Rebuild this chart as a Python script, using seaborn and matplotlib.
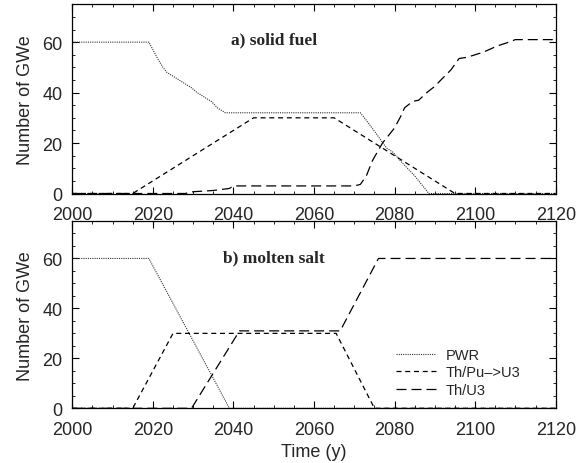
import matplotlib
matplotlib.use("Agg")
import matplotlib.pyplot as plt
import seaborn as sns
import pandas as pd
from matplotlib.ticker import MultipleLocator

sns.set_theme(style="ticks")
plt.rcParams['font.family'] = ['Liberation Sans', 'DejaVu Sans']

# ---- panel a) solid fuel ----
a_pwr_t = [2000, 2019, 2021, 2022.5, 2023.5, 2029.5, 2031, 2034.5, 2036, 2038, 2071.5, 2073, 2076, 2078, 2079.5, 2082, 2085, 2088.5, 2120]
a_pwr_v = [60, 60, 54, 50, 48, 42, 40, 36.5, 34, 32, 32, 29, 22.5, 18, 16.5, 12, 7, 0, 0]
a_thpu_t = [2000, 2015, 2045, 2065, 2095, 2120]
a_thpu_v = [0, 0, 30, 30, 0, 0]
a_thu3_t = [2000, 2028, 2030, 2035, 2039, 2040, 2070, 2071.5, 2073, 2074.5, 2077, 2079, 2080, 2081.5, 2082.5,
            2084.5, 2086, 2088, 2090, 2091.5, 2094, 2096, 2098, 2102, 2105.5, 2108, 2110, 2120]
a_thu3_v = [0, 0, 0.7, 1.2, 2, 3, 3, 3.6, 7, 13, 20, 24, 26, 30.5, 34,
            36.5, 37, 40, 42.5, 45, 49, 53.5, 54, 56, 58.5, 59.8, 61, 61]

# ---- panel b) molten salt ----
b_pwr_t = [2000, 2019, 2039, 2120]
b_pwr_v = [60, 60, 0, 0]
b_thpu_t = [2000, 2015, 2025, 2065.5, 2075, 2120]
b_thpu_v = [0, 0, 30, 30, 0, 0]
b_thu3_t = [2000, 2029.6, 2041.5, 2066.5, 2076, 2120]
b_thu3_v = [0, 0, 31, 31, 60, 60]

labels = ["PWR", "Th/Pu\u2013>U3", "Th/U3"]
styles = [(0, (1, 1)), (0, (4, 3)), (0, (8, 4))]
widths = [0.8, 0.9, 0.9]
colors = ["#333333", "black", "black"]

W, H = 586, 464
fig = plt.figure(figsize=(W / 100, H / 100), dpi=100)
ax1 = fig.add_axes([72.3 / W, 1 - 194.5 / H, (555.7 - 72.3) / W, (194.5 - 5.3) / H])
ax2 = fig.add_axes([72.3 / W, 1 - 409.3 / H, (555.7 - 72.3) / W, (409.3 - 222) / H])

panels = [
    (ax1, [(a_pwr_t, a_pwr_v), (a_thpu_t, a_thpu_v), (a_thu3_t, a_thu3_v)], "a) solid fuel", 59.5),
    (ax2, [(b_pwr_t, b_pwr_v), (b_thpu_t, b_thpu_v), (b_thu3_t, b_thu3_v)], "b) molten salt", 58.7),
]

for ax, series, title, ty in panels:
    for (t, v), lab, ls, lw, c in zip(series, labels, styles, widths, colors):
        df = pd.DataFrame({"Time": t, "GWe": v})
        sns.lineplot(data=df, x="Time", y="GWe", ax=ax, sort=False, estimator=None,
                     color=c, linewidth=lw, linestyle=ls, label=lab)
    ax.set_xlim(2000, 2120)
    ax.set_ylim(0, 75)
    ax.xaxis.set_major_locator(MultipleLocator(20))
    ax.xaxis.set_minor_locator(MultipleLocator(5))
    ax.yaxis.set_major_locator(MultipleLocator(20))
    ax.yaxis.set_minor_locator(MultipleLocator(5))
    ax.tick_params(which="both", direction="in", top=True, right=True, labelsize=13, color="black")
    ax.tick_params(axis="x", which="major", pad=9)
    ax.tick_params(axis="y", which="major", pad=7)
    ax.tick_params(which="major", length=5, width=0.8)
    ax.tick_params(which="minor", length=2.5, width=0.6)
    for s in ax.spines.values():
        s.set_linewidth(0.9)
        s.set_color("black")
    ax.set_ylabel("Number of GWe", fontsize=13, labelpad=6)
    ax.set_xlabel("")
    ax.text(2050, ty, title, ha="center", va="baseline", fontsize=12.5, fontweight="bold",
            family=["Liberation Serif", "DejaVu Serif"])
    ax.get_legend().remove()

ax2.set_xlabel("Time (y)", fontsize=13, labelpad=4)
ax2.legend(loc="lower right", bbox_to_anchor=(0.955, -0.01), frameon=False, fontsize=10.5,
           handlelength=2.7, handletextpad=0.7, labelspacing=0.25)

fig.savefig("out.png", dpi=100)
